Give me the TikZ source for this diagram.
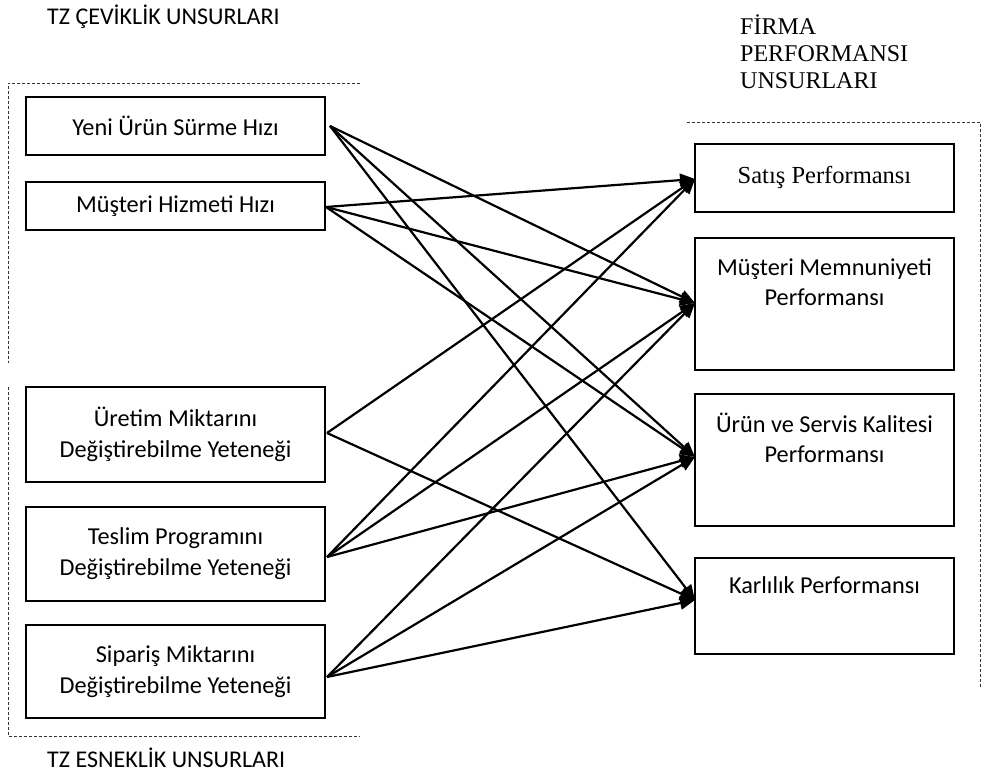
\documentclass[tikz,border=0pt]{standalone}
\usepackage{fontspec}
\setmainfont{Carlito}
\newfontfamily\tnr{Liberation Serif}
\usetikzlibrary{arrows.meta}
\begin{document}
\begin{tikzpicture}[x=1pt,y=-1pt,
  box/.style={draw=black, line width=2.6pt, rectangle, inner sep=0pt},
  lbox/.style={box, minimum width=299pt, align=center, font=\fontsize{24.3}{31}\selectfont},
  rbox/.style={box, minimum width=259pt},
  rtext/.style={align=center, inner sep=0pt, font=\fontsize{24.3}{30}\selectfont},
  link/.style={line width=2.2pt, -{Triangle[length=15pt,width=13pt]}},
  frame/.style={line width=0.9pt, dash pattern=on 3pt off 2pt, color=black!80},
  head/.style={inner sep=0pt, anchor=base west, font=\fontsize{24}{28}\selectfont}
]
\useasboundingbox (0,0) rectangle (988,775);

% headers
\node[head] (hcev) at (47,25) {TZ ÇEVİKLİK UNSURLARI};
\node[head] (hesn) at (47,767) {TZ ESNEKLİK UNSURLARI};
\node[inner sep=0pt, anchor=north west, align=left, font=\tnr\fontsize{24}{27}\selectfont] (hfirma) at (740,14) {FİRMA\\PERFORMANSI\\UNSURLARI};

% dashed frames
\draw[frame] (360,83) -- (8,83) -- (8,363);
\draw[frame] (8,387) -- (8,736) -- (360,736);
\draw[frame] (687,122) -- (980,122) -- (980,687);

% left boxes
\node[lbox, minimum height=58pt] (L1) at (175.5,126) {Yeni Ürün Sürme Hızı};
\node[lbox, minimum height=48pt] (L2) at (175.5,206) {Müşteri Hizmeti Hızı};
\node[lbox, minimum height=95pt] (L3) at (175.5,434.5) {Üretim Miktarını\\Değiştirebilme Yeteneği};
\node[lbox, minimum height=94pt] (L4) at (175.5,554) {Teslim Programını\\Değiştirebilme Yeteneği};
\node[lbox, minimum height=93pt] (L5) at (175.5,671.5) {Sipariş Miktarını\\Değiştirebilme Yeteneği};

% right boxes
\node[rbox, minimum height=68pt] (R1) at (824.5,178) {};
\node[rbox, minimum height=132pt] (R2) at (824.5,304) {};
\node[rbox, minimum height=132pt] (R3) at (824.5,460) {};
\node[rbox, minimum height=96pt] (R4) at (824.5,606) {};

\node[rtext, font=\tnr\fontsize{24.5}{28}\selectfont] (R1t) at (824.5,177) {Satış Performansı};
\node[rtext] (R2t) at (824.5,282) {Müşteri Memnuniyeti\\Performansı};
\node[rtext] (R3t) at (824.5,438) {Ürün ve Servis Kalitesi\\Performansı};
\node[rtext] (R4t) at (824.5,585) {Karlılık Performansı};

% connector ends
\coordinate (s1) at (330,126);
\coordinate (s2) at (326,207);
\coordinate (s3) at (327,433);
\coordinate (s4) at (327,557);
\coordinate (s5) at (327,677);
\coordinate (t1) at (695,179);
\coordinate (t2) at (695,303);
\coordinate (t3) at (695,457);
\coordinate (t4) at (695,600);

% connectors
\draw[link] (s1) -- (t2);
\draw[link] (s1) -- (t3);
\draw[link] (s1) -- (t4);
\draw[link] (s2) -- (t1);
\draw[link] (s2) -- (t2);
\draw[link] (s2) -- (t3);
\draw[link] (s3) -- (t1);
\draw[link] (s3) -- (t4);
\draw[link] (s4) -- (t1);
\draw[link] (s4) -- (t2);
\draw[link] (s4) -- (t3);
\draw[link] (s5) -- (t2);
\draw[link] (s5) -- (t3);
\draw[link] (s5) -- (t4);
\end{tikzpicture}
\end{document}
